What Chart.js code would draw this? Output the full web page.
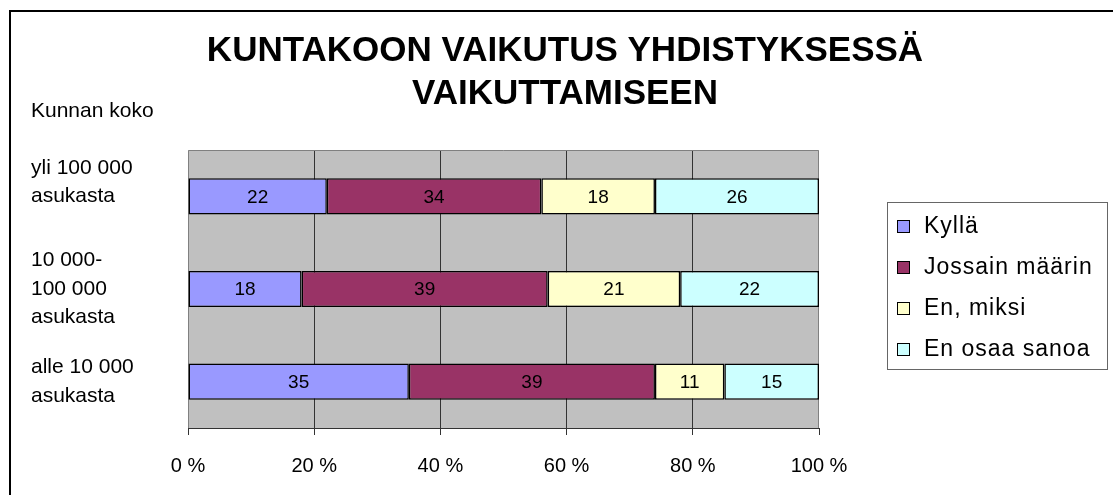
<!DOCTYPE html>
<html lang="fi">
<head>
<meta charset="UTF-8">
<title>Kuntakoon vaikutus yhdistyksessä vaikuttamiseen</title>
<script src="https://cdn.jsdelivr.net/npm/chart.js"></script>
<style>
    html, body { margin: 0; padding: 0; background: #fff; }
    .chart-box { width: 1113px; height: 495px; position: relative; }
</style>
</head>
<body>
<div class="chart-box">
    <canvas id="myChart"></canvas>
</div>
<script>
// categories (top to bottom)
const sizeLabels = [
    ['yli 100 000', 'asukasta', ''],
    ['10 000-', '100 000', 'asukasta'],
    ['alle 10 000', 'asukasta']
];
const seriesNames = ['Kyllä', 'Jossain määrin', 'En, miksi', 'En osaa sanoa'];
const kylla = [22, 18, 35];
const jossain = [34, 39, 39];
const enMiksi = [18, 21, 11];
const enOsaa = [26, 22, 15];
const xTicks = [0, 20, 40, 60, 80, 100];
const seriesColors = ['#9999FF', '#993366', '#FFFFCC', '#CCFFFF'];

const FONT = "'Liberation Sans', Arial, sans-serif";

// background, plot frame, outer border, axis caption, custom legend, value labels
const decorations = {
    id: 'decorations',
    beforeDraw(chart) {
        const { ctx, chartArea: a } = chart;
        ctx.save();
        ctx.fillStyle = '#C0C0C0';
        ctx.fillRect(a.left, a.top, a.right - a.left, a.bottom - a.top);
        ctx.restore();
    },
    beforeDatasetsDraw(chart) {
        const { ctx, chartArea: a } = chart;
        ctx.save();
        ctx.strokeStyle = '#808080';
        ctx.lineWidth = 1;
        ctx.beginPath();
        ctx.moveTo(a.left + 0.5, a.bottom);
        ctx.lineTo(a.left + 0.5, a.top + 0.5);
        ctx.lineTo(a.right - 0.5, a.top + 0.5);
        ctx.lineTo(a.right - 0.5, a.bottom);
        ctx.stroke();
        ctx.restore();
    },
    afterDatasetsDraw(chart) {
        const ctx = chart.ctx;
        ctx.save();
        ctx.font = '19px ' + FONT;
        ctx.fillStyle = '#000';
        ctx.textAlign = 'center';
        ctx.textBaseline = 'middle';
        chart.data.datasets.forEach((ds, i) => {
            chart.getDatasetMeta(i).data.forEach((bar, j) => {
                const p = bar.getProps(['x', 'y', 'base'], true);
                ctx.fillText(String(ds.data[j]), (p.x + p.base) / 2, p.y + 1);
            });
        });
        ctx.restore();
    },
    afterDraw(chart) {
        const ctx = chart.ctx;
        ctx.save();
        // outer frame (continues past right/bottom edge)
        ctx.strokeStyle = '#000';
        ctx.lineWidth = 2;
        ctx.strokeRect(10, 11, chart.width + 20, chart.height + 20);

        ctx.fillStyle = '#000';
        ctx.font = '21px ' + FONT;
        ctx.textAlign = 'left';
        ctx.textBaseline = 'middle';
        ctx.fillText('Kunnan koko', 31, 111);

        // legend
        ctx.strokeStyle = '#666';
        ctx.lineWidth = 1;
        ctx.strokeRect(887.5, 202.5, 220, 167);
        ctx.font = '23px ' + FONT;
        ctx.letterSpacing = '1px';
        chart.data.datasets.forEach((ds, i) => {
            const cy = 226 + i * 41;
            ctx.fillStyle = ds.backgroundColor;
            ctx.fillRect(897, cy - 6, 13, 13);
            ctx.strokeStyle = '#000';
            ctx.strokeRect(897.5, cy - 5.5, 12, 12);
            ctx.fillStyle = '#000';
            ctx.fillText(ds.label, 924, cy + 1);
        });
        ctx.restore();
    }
};

const datasets = [kylla, jossain, enMiksi, enOsaa].map((values, i) => ({
    label: seriesNames[i],
    data: values,
    backgroundColor: seriesColors[i],
    borderColor: '#000',
    borderWidth: 1.5,
    borderSkipped: false,
    barPercentage: 0.39,
    categoryPercentage: 1
}));

const ctx = document.getElementById('myChart').getContext('2d');
const chart = new Chart(ctx, {
    type: 'bar',
    data: { labels: sizeLabels, datasets: datasets },
    options: {
        indexAxis: 'y',
        responsive: true,
        maintainAspectRatio: false,
        animation: false,
        layout: { padding: { left: 31, right: 14, top: 0, bottom: 0 } },
        plugins: {
            legend: { display: false },
            tooltip: { enabled: false },
            title: {
                display: true,
                text: ['KUNTAKOON VAIKUTUS YHDISTYKSESSÄ', 'VAIKUTTAMISEEN'],
                color: '#000',
                font: { family: FONT, size: 35, weight: 'bold', lineHeight: 1.25 },
                padding: { top: 29, bottom: 33.5 }
            }
        },
        scales: {
            x: {
                stacked: true,
                min: 0,
                max: 100,
                afterBuildTicks: s => { s.ticks = xTicks.map(v => ({ value: v })); },
                afterFit: s => { s.height = 67; },
                ticks: {
                    color: '#000',
                    padding: 19,
                    font: { family: FONT, size: 20 },
                    callback: v => v + ' %'
                },
                grid: {
                    color: c => (c.tick && (c.tick.value === 0 || c.tick.value === 100)) ? 'rgba(0,0,0,0)' : '#333',
                    tickColor: '#333',
                    tickLength: 7,
                    lineWidth: 1
                },
                border: { color: '#333', width: 1 }
            },
            y: {
                stacked: true,
                afterFit: s => { s.width = 157; },
                ticks: {
                    color: '#000',
                    crossAlign: 'far',
                    font: { family: FONT, size: 21, lineHeight: 1.36 }
                },
                grid: { display: false },
                border: { display: false }
            },
            yRight: {
                type: 'linear',
                position: 'right',
                afterFit: s => { s.width = 280; },
                ticks: { display: false },
                grid: { display: false },
                border: { display: false }
            }
        }
    },
    plugins: [decorations]
});
</script>
</body>
</html>
